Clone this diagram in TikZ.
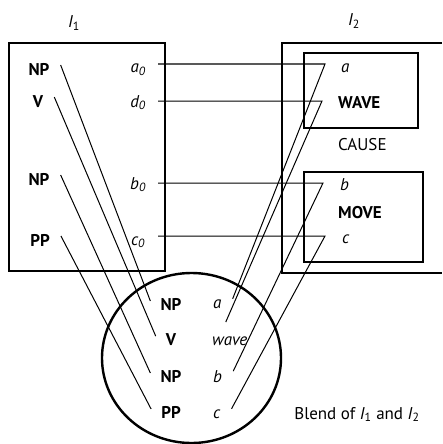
\documentclass[tikz,border=0pt]{standalone}
\usepackage{fontspec}
\setmainfont{PT Sans}
\usepackage{tikz}
\usetikzlibrary{shapes.geometric,calc}

\begin{document}
\begin{tikzpicture}[
  x=1pt, y=-1pt,
  frame/.style={draw, line width=2.2pt, inner sep=0pt},
  link/.style={line width=1pt},
  txt/.style={font=\fontsize{17}{19}\selectfont, inner sep=2pt, anchor=base},
  role/.style={txt, font=\fontsize{17}{19}\selectfont\bfseries},
  slot/.style={txt, font=\fontsize{17}{19}\selectfont\itshape},
  frm/.style={txt, anchor=base west, font=\fontsize{17}{19}\selectfont\bfseries}
]
  \useasboundingbox (0,0) rectangle (442,444);

  \node[frame, minimum width=156pt, minimum height=228pt] (i1) at (87,157) {};
  \node[txt] (t1) at (74,28) {\textit{I}\textsubscript{1}};
  \node[role] (lnp1) at (39,75) {NP};
  \node[role] (lv) at (38,107) {V};
  \node[role] (lnp2) at (39,185) {NP};
  \node[role] (lpp) at (40,246) {PP};
  \node[slot] (la0) at (138,73) {a\textsubscript{0}};
  \node[slot] (ld0) at (138,107) {d\textsubscript{0}};
  \node[slot] (lb0) at (138,189) {b\textsubscript{0}};
  \node[slot] (lc0) at (138,245) {c\textsubscript{0}};

  \draw[line width=2.2pt] (442,43) -| (282,273) -- (442,273);
  \node[txt] (t2) at (354,26) {\textit{I}\textsubscript{2}};
  \node[frame, minimum width=114pt, minimum height=75pt] (wbox) at (361,90.5) {};
  \node[frame, minimum width=119pt, minimum height=90pt] (mbox) at (363.5,217) {};
  \node[slot, anchor=base west] (ra) at (339,73) {a};
  \node[frm] (rwave) at (336,108) {WAVE};
  \node[txt, anchor=base west] (rcause) at (336,150) {CAUSE};
  \node[slot, anchor=base west] (rb) at (338,190) {b};
  \node[frm] (rmove) at (336,218) {MOVE};
  \node[slot, anchor=base west] (rc) at (340,243) {c};

  \node[draw, ellipse, line width=2.4pt, minimum width=179pt, minimum height=170pt, inner sep=0pt] (blend) at (191.5,358) {};
  \node[role] (bnp1) at (171,310) {NP};
  \node[role] (bv) at (171,345) {V};
  \node[role] (bnp2) at (171,382) {NP};
  \node[role] (bpp) at (171,418) {PP};
  \node[slot, anchor=base west] (ba) at (211,308) {a};
  \node[slot, anchor=base west] (bwave) at (210,345) {wave};
  \node[slot, anchor=base west] (bb) at (211,382) {b};
  \node[slot, anchor=base west] (bc) at (211,418) {c};
  \node[txt] (cap) at (357,419) {Blend of \textit{I}\textsubscript{1} and \textit{I}\textsubscript{2}};

  \coordinate (ka) at (325,64);
  \coordinate (kd) at (322,101);
  \coordinate (kb) at (323,183);
  \coordinate (kc) at (325,236);

  \foreach \a/\b in {lnp1/bnp1, lv/bv, lnp2/bnp2, lpp/bpp}{ \draw[link] ([shift={(9pt,4pt)}]\a.east) -- ([shift={(-8pt,3pt)}]\b.west); }
  \foreach \k/\b in {a/ba, b/bb, c/bc}{ \draw[link] ([xshift=-8pt]k\k -| i1.east) -- (k\k) -- ([shift={(9pt,5pt)}]\b.east); }
  \draw[link] ([xshift=-8pt]kd -| i1.east) -- (kd) -- ([shift={(-4pt,12pt)}]bwave.north);
\end{tikzpicture}
\end{document}
